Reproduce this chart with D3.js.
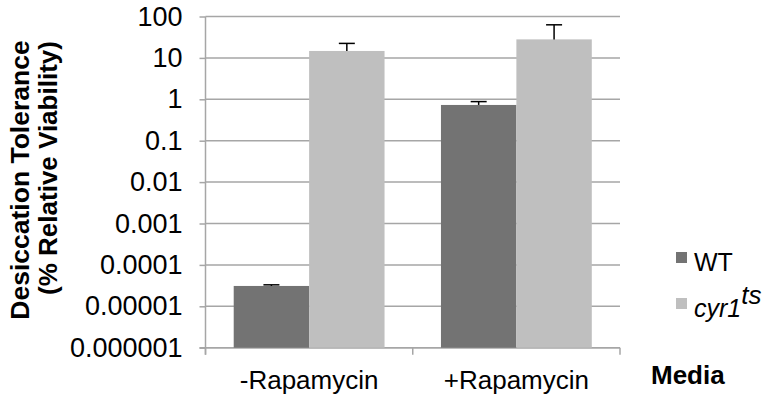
<!DOCTYPE html>
<html>
<head>
<meta charset="utf-8">
<script src="https://cdn.jsdelivr.net/npm/d3@7"></script>
<style>
  body { margin: 0; background: #fff; }
  text { font-family: "Liberation Sans", Arial, Helvetica, sans-serif; fill: #000; }
</style>
</head>
<body>
<div id="container"></div>
<script>
// chart data
const media = ["-Rapamycin", "+Rapamycin"];
const strains = ["WT", "cyr1"];
const wtValues = [3.1e-5, 0.73];
const wtErrors = [0.2e-5, 0.15];
const cyrValues = [14.7, 28];
const cyrErrors = [7.7, 35];
const yTicks = [100, 10, 1, 0.1, 0.01, 0.001, 0.0001, 0.00001, 0.000001];
const yTickLabels = ["100", "10", "1", "0.1", "0.01", "0.001", "0.0001", "0.00001", "0.000001"];

const width = 768, height = 401;
const plot = { left: 205.5, right: 620, top: 16.5, bottom: 347.7 };

const colors = { WT: "#737373", cyr1: "#bfbfbf" };

const svg = d3.select("#container").append("svg")
    .attr("width", width)
    .attr("height", height);

const x = d3.scaleBand()
    .domain(media)
    .range([plot.left, plot.right])
    .paddingInner(0)
    .paddingOuter(0);

const xInner = d3.scaleBand()
    .domain(strains)
    .range([0, x.bandwidth()])
    .paddingInner(0)
    .paddingOuter(0.374);

const y = d3.scaleLog()
    .domain([1e-6, 100])
    .range([plot.bottom, plot.top]);

// horizontal gridlines
svg.append("g")
    .selectAll("line")
    .data(yTicks)
    .join("line")
    .attr("x1", plot.left)
    .attr("x2", plot.right)
    .attr("y1", d => y(d))
    .attr("y2", d => y(d))
    .attr("stroke", "#a6a6a6")
    .attr("stroke-width", 1.5);

// y axis
const yAxis = svg.append("g")
    .attr("transform", `translate(${plot.left},0)`)
    .call(d3.axisLeft(y)
        .tickValues(yTicks)
        .tickFormat((d, i) => yTickLabels[i])
        .tickSize(6)
        .tickPadding(17));
yAxis.select(".domain")
    .attr("stroke", "#a6a6a6")
    .attr("stroke-width", 1.5)
    .attr("d", `M0,${plot.top}V${plot.bottom + 7}`);
yAxis.selectAll(".tick line").attr("stroke", "#a6a6a6").attr("stroke-width", 1.5);
yAxis.selectAll(".tick text")
    .style("font-family", "'Liberation Sans', Arial, sans-serif")
    .attr("font-size", 27)
    .attr("fill", "#000");

// x axis
const xAxis = svg.append("g")
    .attr("transform", `translate(0,${plot.bottom})`)
    .call(d3.axisBottom(x).tickSize(0).tickPadding(0));
xAxis.select(".domain")
    .attr("stroke", "#a6a6a6")
    .attr("stroke-width", 1.5)
    .attr("d", `M${plot.left - 6},0H${plot.right}`);
xAxis.selectAll(".tick text")
    .style("font-family", "'Liberation Sans', Arial, sans-serif")
    .attr("font-size", 26)
    .attr("fill", "#000")
    .attr("dy", 0)
    .attr("y", 41);
// category separators on the x axis
svg.append("g")
    .selectAll("line")
    .data([plot.left, x(media[1]), plot.right])
    .join("line")
    .attr("x1", d => d)
    .attr("x2", d => d)
    .attr("y1", plot.bottom)
    .attr("y2", plot.bottom + 7)
    .attr("stroke", "#a6a6a6")
    .attr("stroke-width", 1.5);

// bars
const rows = media.flatMap((m, i) => [
    { media: m, strain: "WT", value: wtValues[i], err: wtErrors[i] },
    { media: m, strain: "cyr1", value: cyrValues[i], err: cyrErrors[i] }
]);

const bars = svg.append("g")
    .selectAll("g")
    .data(rows)
    .join("g")
    .attr("transform", d => `translate(${x(d.media) + xInner(d.strain)},0)`);

bars.append("rect")
    .attr("x", 0)
    .attr("y", d => y(d.value))
    .attr("width", xInner.bandwidth())
    .attr("height", d => plot.bottom - y(d.value))
    .attr("fill", d => colors[d.strain]);

// error bars
const cap = 16;
bars.append("line")
    .attr("x1", xInner.bandwidth() / 2)
    .attr("x2", xInner.bandwidth() / 2)
    .attr("y1", d => y(d.value))
    .attr("y2", d => y(d.value + d.err))
    .attr("stroke", "#000")
    .attr("stroke-width", 1.5);
bars.append("line")
    .attr("x1", xInner.bandwidth() / 2 - cap / 2)
    .attr("x2", xInner.bandwidth() / 2 + cap / 2)
    .attr("y1", d => y(d.value + d.err))
    .attr("y2", d => y(d.value + d.err))
    .attr("stroke", "#000")
    .attr("stroke-width", 1.5);

// y axis title, two lines
svg.append("text")
    .attr("transform", "translate(29,180) rotate(-90)")
    .attr("text-anchor", "middle")
    .attr("font-size", 26.5)
    .attr("font-weight", "bold")
    .text("Desiccation Tolerance");
svg.append("text")
    .attr("transform", "translate(57,168) rotate(-90)")
    .attr("text-anchor", "middle")
    .attr("font-size", 26)
    .attr("font-weight", "bold")
    .text("(% Relative Viability)");

// x axis title
svg.append("text")
    .attr("x", 651)
    .attr("y", 384)
    .attr("font-size", 26)
    .attr("font-weight", "bold")
    .text("Media");

// legend
const legend = svg.append("g");
legend.append("rect")
    .attr("x", 676).attr("y", 252).attr("width", 11).attr("height", 11)
    .attr("fill", colors.WT);
legend.append("text")
    .attr("x", 694).attr("y", 271)
    .attr("font-size", 25)
    .text("WT");
legend.append("rect")
    .attr("x", 676).attr("y", 298).attr("width", 11).attr("height", 11)
    .attr("fill", colors.cyr1);
const cyrLabel = legend.append("text")
    .attr("x", 694).attr("y", 317)
    .attr("font-size", 25)
    .attr("font-style", "italic");
cyrLabel.append("tspan").text("cyr1");
cyrLabel.append("tspan").attr("dy", -13).attr("font-size", 26).text("ts");
</script>
</body>
</html>
